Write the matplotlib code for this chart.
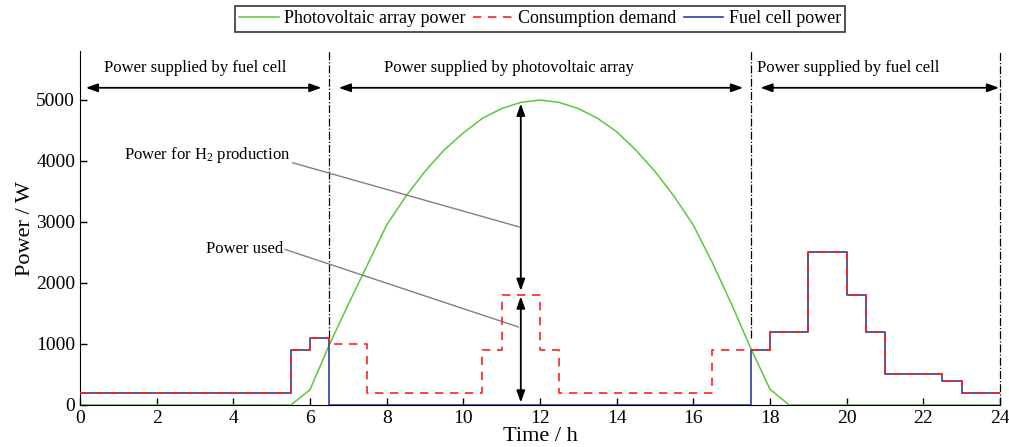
import numpy as np
from matplotlib import pyplot as plt

plt.rcParams['font.family'] = ['Liberation Serif', 'DejaVu Serif']
plt.rcParams['mathtext.fontset'] = 'custom'
plt.rcParams['mathtext.rm'] = 'Liberation Serif'
plt.rcParams['mathtext.it'] = 'Liberation Serif:italic'

# photovoltaic array power (half-hour points)
pv_t = [0, 5.5, 6, 6.5, 7, 7.5, 8, 8.5, 9, 9.5, 10, 10.5, 11, 11.5, 12,
        12.5, 13, 13.5, 14, 14.5, 15, 15.5, 16, 16.5, 17, 17.5, 18, 18.5, 24]
pv_p = [0, 0, 250, 980, 1650, 2300, 2950, 3420, 3830, 4180, 4460, 4700, 4860, 4960, 5000,
        4960, 4860, 4700, 4480, 4180, 3830, 3420, 2950, 2330, 1650, 930, 260, 0, 0]

# step edges (hours) and values
step_t = [0, 5.5, 6, 6.5, 7.5, 10.5, 11, 12, 12.5, 16.5, 17.5, 18, 19, 20, 20.5, 21, 22.5, 23, 24]
demand = [200, 900, 1100, 1000, 200, 900, 1800, 900, 200, 900, 900, 1200, 2500, 1800, 1200, 500, 400, 200]
fuel   = [200, 900, 1100, 0, 0, 0, 0, 0, 0, 0, 900, 1200, 2500, 1800, 1200, 500, 400, 200]

def steps(edges, vals):
    return edges, list(vals) + [vals[-1]]

fig = plt.figure(figsize=(10.09, 4.47), dpi=100)
ax = fig.add_axes([0.0793, 0.094, 0.9117, 0.7915])

ax.plot(pv_t, pv_p, color='#5cc83a', lw=1.1, label='Photovoltaic array power')
x, y = steps(step_t, fuel)
ax.step(x, y, where='post', color='#2b3fa8', lw=1.2, label='Fuel cell power', zorder=3)
x, y = steps(step_t, demand)
ax.step(x, y, where='post', color='#ff2020', lw=1.2, ls=(0, (5, 4)), label='Consumption demand', zorder=4)

# region separators
for xv, y0 in [(6.5, 1100), (17.5, 1100), (24, 0)]:
    ax.plot([xv, xv], [y0, 5800], color='black', lw=0.9, ls='-.', zorder=2, clip_on=False)

arr = dict(arrowstyle='<|-|>,head_length=0.7,head_width=0.25', color='black', lw=1.3,
           shrinkA=0, shrinkB=0)
for a, b in [(0.15, 6.3), (6.75, 17.3), (17.75, 23.98)]:
    ax.annotate('', xy=(a, 5200), xytext=(b, 5200), arrowprops=arr, annotation_clip=False)
ax.text(3.0, 5520, 'Power supplied by fuel cell', ha='center', va='center', fontsize=12)
ax.text(11.2, 5520, 'Power supplied by photovoltaic array', ha='center', va='center', fontsize=12)
ax.text(17.65, 5520, 'Power supplied by fuel cell', ha='left', va='center', fontsize=12)

# vertical arrows at 11.5 h
ax.annotate('', xy=(11.5, 4940), xytext=(11.5, 1870), arrowprops=arr)
ax.annotate('', xy=(11.5, 1780), xytext=(11.5, 40), arrowprops=arr)

# leader lines and labels
ax.plot([5.55, 11.45], [3970, 2920], color='gray', lw=1)
ax.plot([5.35, 11.43], [2550, 1280], color='gray', lw=1)
ax.text(5.5, 4100, 'Power for H$_2$ production', ha='right', va='center', fontsize=12)
ax.text(5.3, 2550, 'Power used', ha='right', va='center', fontsize=12)

ax.set_xlim(0, 24)
ax.set_ylim(0, 5800)
ax.set_xticks(np.arange(0, 25, 2))
ax.set_yticks(np.arange(0, 5001, 1000))
ax.tick_params(direction='in', length=5, width=1, labelsize=14)
ax.spines['top'].set_visible(False)
ax.spines['right'].set_visible(False)
ax.set_xlabel('Time / h', fontsize=16, labelpad=0)
ax.set_ylabel('Power / W', fontsize=16, labelpad=1)

h, l = ax.get_legend_handles_labels()
order = [0, 2, 1]
leg = ax.legend([h[i] for i in order], [l[i] for i in order], ncol=3, loc='lower center',
                bbox_to_anchor=(0.5, 1.055), fontsize=13, frameon=True, fancybox=False,
                edgecolor='black', handlelength=2.2, handletextpad=0.3, columnspacing=0.4,
                borderpad=0.25, borderaxespad=0)
leg.get_frame().set_linewidth(1.2)

fig.savefig('out.png', dpi=100)
